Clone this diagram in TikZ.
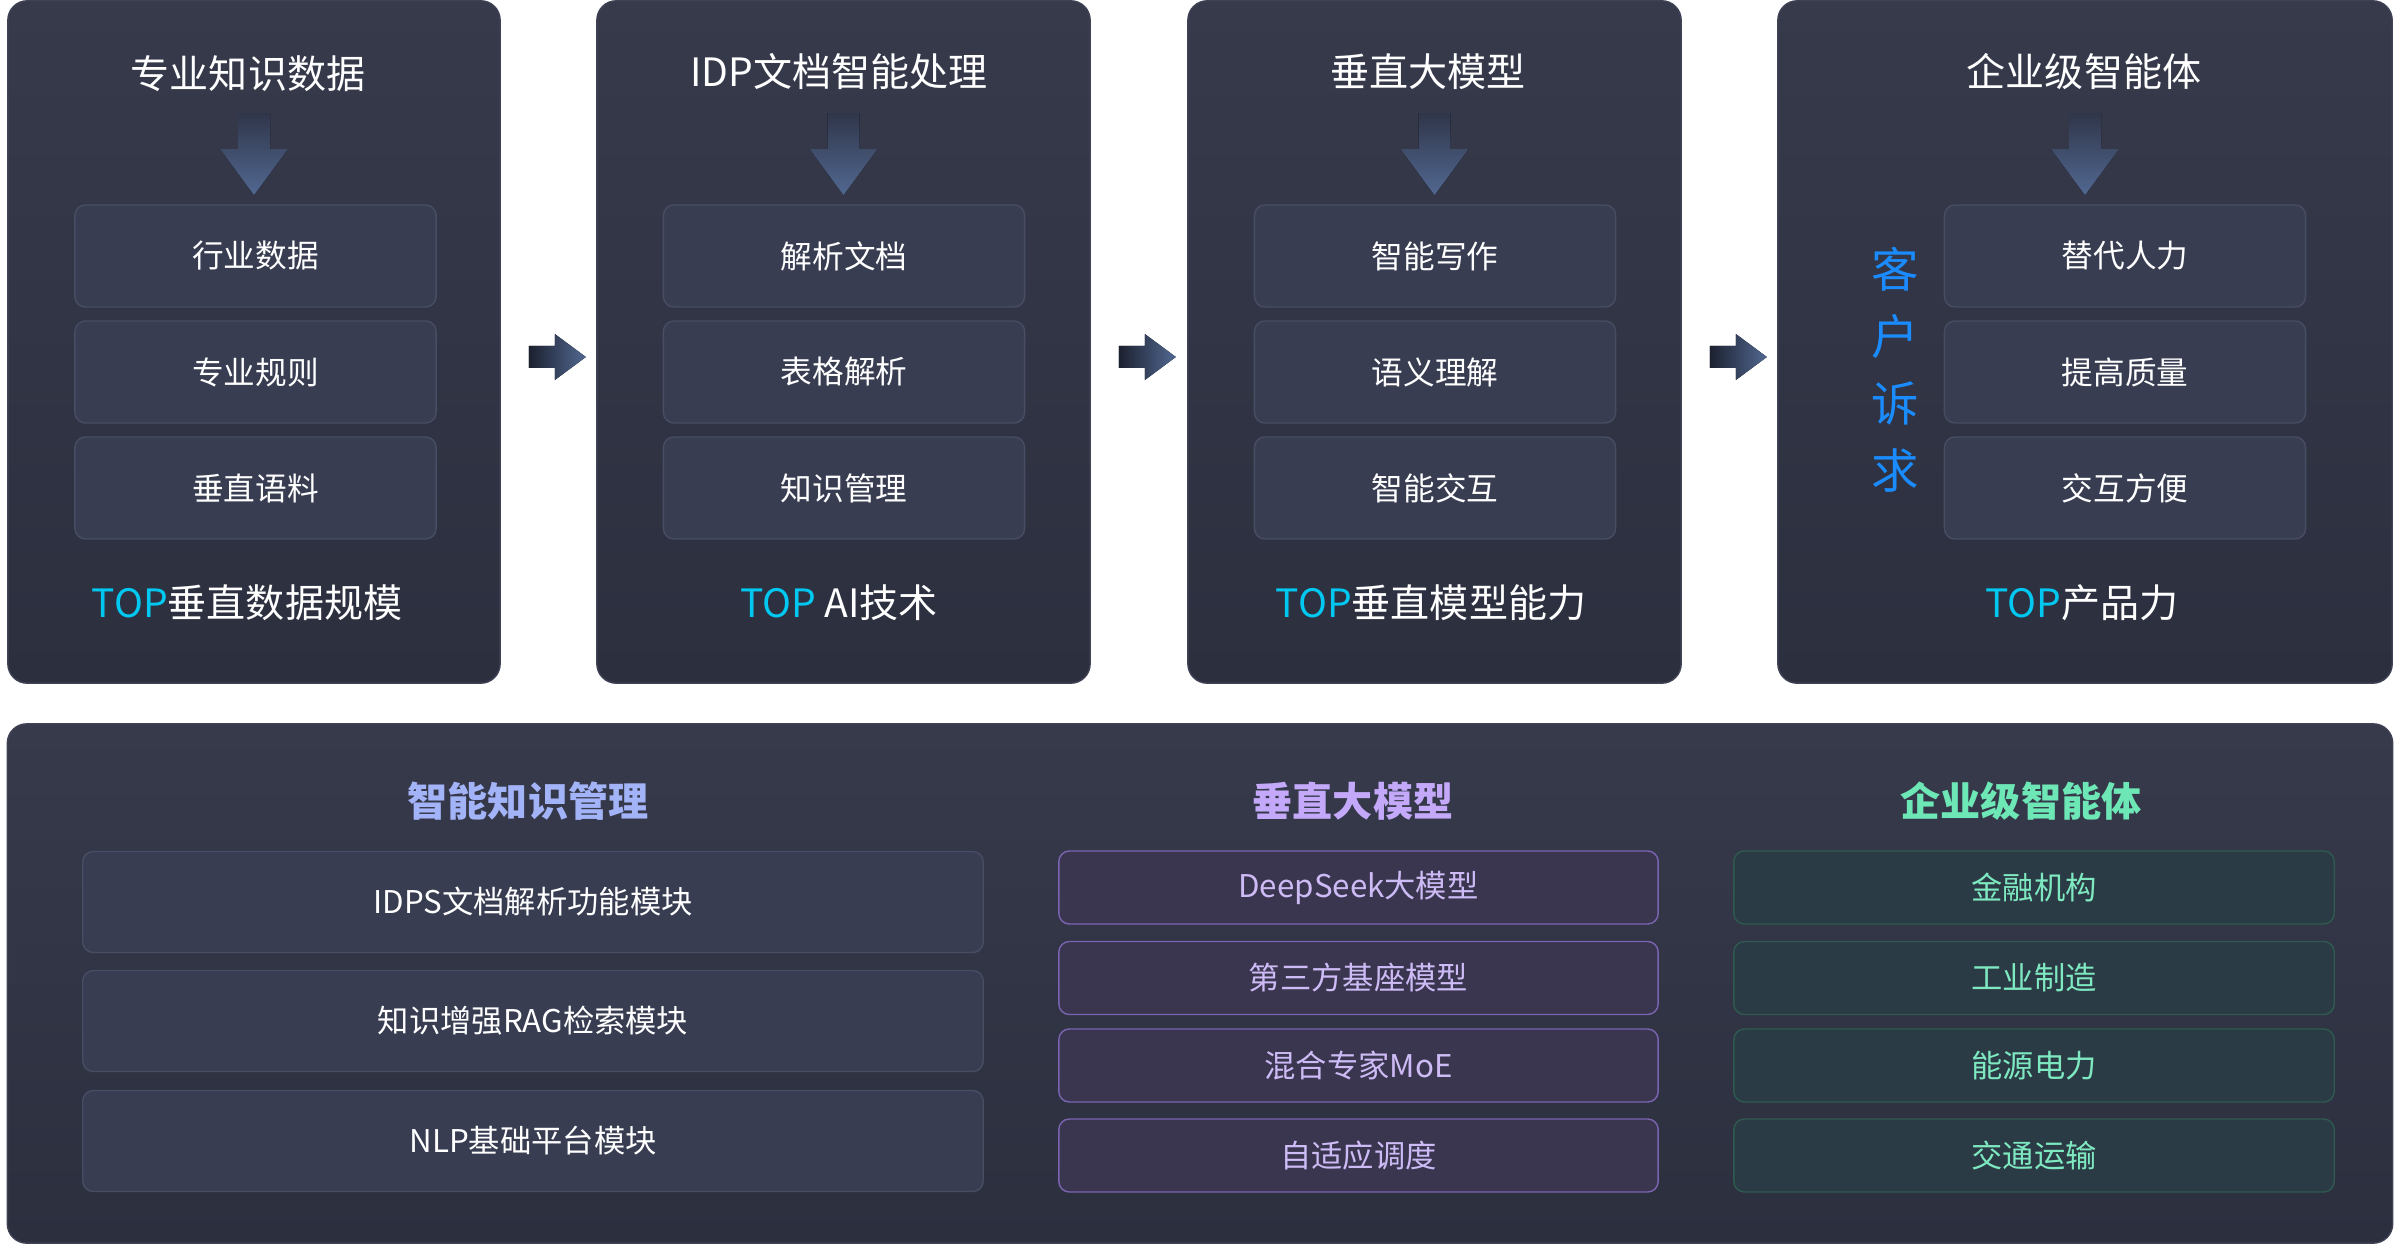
\documentclass[tikz,border=0pt]{standalone}
\usepackage{fontspec}
\setmainfont{Noto Sans CJK SC}
\usetikzlibrary{positioning}

\definecolor{cardtop}{HTML}{363A4B}
\definecolor{cardbot}{HTML}{2C2F3E}
\definecolor{cardline}{HTML}{3E4254}
\definecolor{boxfill}{HTML}{383D52}
\definecolor{boxline}{HTML}{474D63}
\definecolor{arrowdark}{HTML}{1C2130}
\definecolor{arrowlight}{HTML}{526891}
\definecolor{arrowtop}{HTML}{30364A}
\definecolor{topcyan}{HTML}{00C8F0}
\definecolor{needblue}{HTML}{1A8CFF}
\definecolor{headblue}{HTML}{A3B3F7}
\definecolor{headviolet}{HTML}{C4A9FA}
\definecolor{headmint}{HTML}{6EE7B7}
\definecolor{modfill}{HTML}{3B3650}
\definecolor{modline}{HTML}{7A64B0}
\definecolor{modtext}{HTML}{CDBBF5}
\definecolor{usefill}{HTML}{2B3B45}
\definecolor{useline}{HTML}{2E5A4F}
\definecolor{usetext}{HTML}{7EE8C0}

\begin{document}
\begin{tikzpicture}
[x=0.01cm,y=-0.01cm,%
  card/.style={draw=cardline,top color=cardtop,bottom color=cardbot,rounded corners=5.5pt,inner sep=0pt},%
  item/.style={draw=boxline,fill=boxfill,rounded corners=3pt,minimum width=3.61cm,minimum height=1.02cm,text=white,font=\fontsize{9}{11}\selectfont},%
  title/.style={text=white,font=\fontsize{11.1}{13}\selectfont},%
  top/.style={text=white,font=\fontsize{11.1}{13}\selectfont},%
  head/.style={font=\bfseries\fontsize{11.4}{13}\selectfont},%
  base/.style={draw=boxline,fill=boxfill,rounded corners=3pt,minimum width=9cm,minimum height=1.01cm,text=white,font=\fontsize{8.9}{11}\selectfont},%
  model/.style={draw=modline,fill=modfill,rounded corners=3pt,minimum width=5.99cm,minimum height=0.73cm,text=modtext,font=\fontsize{8.9}{11}\selectfont},%
  usage/.style={draw=useline,fill=usefill,rounded corners=3pt,minimum width=6cm,minimum height=0.73cm,text=usetext,font=\fontsize{8.9}{11}\selectfont},%
  downarrow/.style={top color=arrowtop,bottom color=arrowlight},%
  flowarrow/.style={left color=arrowdark,right color=arrowlight}]
\useasboundingbox (0,0) rectangle (2400,1246);

% top row
\node[card,minimum width=4.92cm,minimum height=6.82cm] (c1) at (254,342) {};
\node[card,minimum width=4.93cm,minimum height=6.82cm] (c2) at (843.5,342) {};
\node[card,minimum width=4.93cm,minimum height=6.82cm] (c3) at (1434.5,342) {};
\node[card,minimum width=6.14cm,minimum height=6.82cm] (c4) at (2085,342) {};

\node[title] (t1) at (248,74) {专业知识数据};
\node[title] (t2) at (839,72) {IDP文档智能处理};
\node[title] (t3) at (1428,72) {垂直大模型};
\node[title] (t4) at (2084,72) {企业级智能体};

\foreach \a in {1,2,3,4}
  \fill[downarrow,shift={(c\a.north)}] (-16,113) -- (16,113) -- (16,149) -- (34,149)
    -- (0,195) -- (-34,149) -- (-16,149) -- cycle;

\foreach \a/\b in {1/2,2/3,3/4}
  \fill[flowarrow,shift={(c\a.east)}] (28,4) -- (54,4) -- (54,-8) -- (85,15)
    -- (54,38) -- (54,26) -- (28,26) -- cycle;

\node[item] (a1) at (255.5,256) {行业数据};
\node[item] (a2) at (255.5,372) {专业规则};
\node[item] (a3) at (255.5,488) {垂直语料};
\node[item] (b1) at (844,256) {解析文档};
\node[item] (b2) at (844,372) {表格解析};
\node[item] (b3) at (844,488) {知识管理};
\node[item] (d1) at (1435,256) {智能写作};
\node[item] (d2) at (1435,372) {语义理解};
\node[item] (d3) at (1435,488) {智能交互};
\node[item] (e1) at (2125,256) {替代人力};
\node[item] (e2) at (2125,372) {提高质量};
\node[item] (e3) at (2125,488) {交互方便};

\node[text=needblue,align=center,font=\fontsize{13.5}{19.1}\selectfont] (need) at (1895,370) {客\\户\\诉\\求};

\node[top] (p1) at (247,603) {\textcolor{topcyan}{TOP}垂直数据规模};
\node[top] (p2) at (839,603) {\textcolor{topcyan}{TOP} AI技术};
\node[top] (p3) at (1431,603) {\textcolor{topcyan}{TOP}垂直模型能力};
\node[top] (p4) at (2082,603) {\textcolor{topcyan}{TOP}产品力};

% bottom panel
\node[card,minimum width=23.84cm,minimum height=5.19cm] (panel) at (1200,983.5) {};

\node[head,text=headblue] (h1) at (528,801) {智能知识管理};
\node[head,text=headviolet] (h2) at (1353,801) {垂直大模型};
\node[head,text=headmint] (h3) at (2021,801) {企业级智能体};

\node[base] (k1) at (533,902) {IDPS文档解析功能模块};
\node[base] (k2) at (533,1021) {知识增强RAG检索模块};
\node[base] (k3) at (533,1141) {NLP基础平台模块};

\node[model] (m1) at (1358.5,887.5) {DeepSeek大模型};
\node[model] (m2) at (1358.5,978) {第三方基座模型};
\node[model] (m3) at (1358.5,1065.5) {混合专家MoE};
\node[model] (m4) at (1358.5,1155.5) {自适应调度};

\node[usage] (u1) at (2034,887.5) {金融机构};
\node[usage] (u2) at (2034,978) {工业制造};
\node[usage] (u3) at (2034,1065.5) {能源电力};
\node[usage] (u4) at (2034,1155.5) {交通运输};
\end{tikzpicture}
\end{document}
